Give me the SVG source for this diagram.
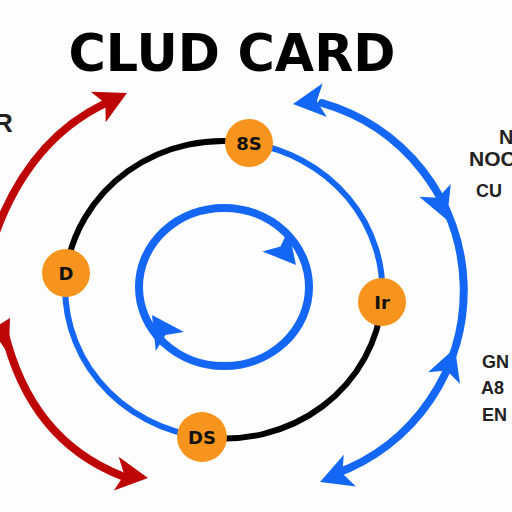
<svg xmlns="http://www.w3.org/2000/svg" xmlns:xlink="http://www.w3.org/1999/xlink" width="512" height="512" viewBox="0 0 512 512">
<style>
.blue{fill:none;stroke:#1467f5;stroke-width:8;stroke-linecap:round}
.ring{fill:none;stroke-width:6;stroke-linecap:round}
.red{fill:none;stroke:#bf0606;stroke-width:8;stroke-linecap:round}
.node{fill:#f7941d}
.nl{font-family:"DejaVu Sans",sans-serif;font-weight:bold;font-size:18px;fill:#111;text-anchor:middle}
.side{font-family:"Liberation Sans",Arial,sans-serif;font-weight:bold;fill:#222}
</style>
<defs>
<path id="ah" d="M0,0 L-32,-17 L-24,0 L-32,17 Z"/>
</defs>
<rect width="512" height="512" fill="#fdfdfd"/>
<text x="232" y="71" font-family="'DejaVu Sans',sans-serif" font-weight="bold" font-size="52" text-anchor="middle" textLength="327" lengthAdjust="spacingAndGlyphs" fill="#000">CLUD CARD</text>
<g id="connectors">
<path class="ring" stroke="#000" d="M66,273 A158,150 0 0 1 249,143"/>
<path class="ring" stroke="#1467f5" d="M249,143 A158,150 0 0 1 382,302"/>
<path class="ring" stroke="#000" d="M382,302 A158,150 0 0 1 202,437"/>
<path class="ring" stroke="#1467f5" d="M202,437 A158,150 0 0 1 66,273"/>
<ellipse class="blue" cx="224" cy="287" rx="85" ry="79"/>
<use href="#ah" fill="#1467f5" transform="translate(296,265) rotate(50)"/>
<use href="#ah" fill="#1467f5" transform="translate(152,315) rotate(236)"/>
<path class="blue" d="M322,103 A195,195 0 0 1 335,474"/>
<use href="#ah" fill="#1467f5" transform="translate(293,104) rotate(173)"/>
<use href="#ah" fill="#1467f5" transform="translate(447,220) rotate(68)"/>
<use href="#ah" fill="#1467f5" transform="translate(455,348) rotate(-70)"/>
<use href="#ah" fill="#1467f5" transform="translate(320,482) rotate(159)"/>
<path class="red" d="M-4,232 Q30,140 104,104"/>
<use href="#ah" fill="#bf0606" transform="translate(127,93) rotate(-26)"/>
<path class="red" d="M4,330 Q30,440 122,476"/>
<use href="#ah" fill="#bf0606" transform="translate(10,318) rotate(-60)"/>
<use href="#ah" fill="#bf0606" transform="translate(148,478) rotate(8)"/>
</g>
<g id="node-8S"><circle class="node" cx="249" cy="143" r="24"/><text class="nl" x="249" y="150">8S</text></g>
<g id="node-D"><circle class="node" cx="66" cy="273" r="24"/><text class="nl" x="66" y="280">D</text></g>
<g id="node-Ir"><circle class="node" cx="382" cy="302" r="24"/><text class="nl" x="382" y="309">Ir</text></g>
<g id="node-DS"><circle class="node" cx="202" cy="437" r="25"/><text class="nl" x="202" y="444">DS</text></g>
<text class="side" x="-6" y="132" font-size="26">R</text>
<text class="side" x="499" y="144" font-size="20">N</text>
<text class="side" x="469" y="166" font-size="21">NOC</text>
<text class="side" x="476" y="197" font-size="18">CU</text>
<text class="side" x="482" y="368" font-size="18">GN</text>
<text class="side" x="481" y="394" font-size="18">A8</text>
<text class="side" x="482" y="421" font-size="18">EN</text>
</svg>
